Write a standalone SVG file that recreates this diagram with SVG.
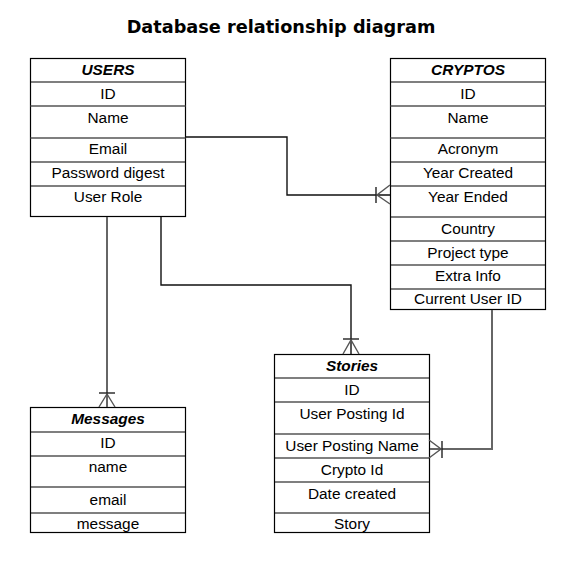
<svg xmlns="http://www.w3.org/2000/svg" width="579" height="573" viewBox="0 0 579 573">
<style>
.box{fill:#fff;stroke:#000;stroke-width:1.2}
.sep{stroke:#000;stroke-width:1.2}
.gsep{stroke:#555;stroke-width:1.6}
.t{font-family:"Liberation Sans",Arial,sans-serif;font-size:15.4px;text-anchor:middle;fill:#000}
.h{font-family:"Liberation Sans",Arial,sans-serif;font-size:15.4px;font-weight:bold;font-style:italic;text-anchor:middle;fill:#000}
.title{font-family:"DejaVu Sans",Verdana,sans-serif;font-size:17.7px;font-weight:bold;text-anchor:middle;fill:#000}
.ln{fill:none;stroke:#111;stroke-width:1.4}
.gln{fill:none;stroke:#666;stroke-width:2}
.crow{fill:none;stroke:#555;stroke-width:1.4}
.bar{fill:none;stroke:#222;stroke-width:1.4}
</style>
<rect width="579" height="573" fill="#fff"/>
<text class="title" x="281" y="33">Database relationship diagram</text>

<g id="users">
<rect class="box" x="30.5" y="58.5" width="155" height="158"/>
<line class="sep" x1="30.5" y1="82" x2="185.5" y2="82"/>
<line class="gsep" x1="30.5" y1="106" x2="185.5" y2="106"/>
<line class="gsep" x1="30.5" y1="138" x2="185.5" y2="138"/>
<line class="sep" x1="30.5" y1="162" x2="185.5" y2="162"/>
<line class="sep" x1="30.5" y1="186" x2="185.5" y2="186"/>
<text class="h" x="108" y="75">USERS</text>
<text class="t" x="108" y="99">ID</text>
<text class="t" x="108" y="123">Name</text>
<text class="t" x="108" y="154">Email</text>
<text class="t" x="108" y="178">Password digest</text>
<text class="t" x="108" y="202">User Role</text>
</g>

<g id="cryptos">
<rect class="box" x="390.5" y="58.5" width="155" height="251"/>
<line class="sep" x1="390.5" y1="82" x2="545.5" y2="82"/>
<line class="gsep" x1="390.5" y1="106" x2="545.5" y2="106"/>
<line class="gsep" x1="390.5" y1="138" x2="545.5" y2="138"/>
<line class="sep" x1="390.5" y1="162" x2="545.5" y2="162"/>
<line class="sep" x1="390.5" y1="186" x2="545.5" y2="186"/>
<line class="sep" x1="390.5" y1="217" x2="545.5" y2="217"/>
<line class="sep" x1="390.5" y1="241" x2="545.5" y2="241"/>
<line class="sep" x1="390.5" y1="265" x2="545.5" y2="265"/>
<line class="sep" x1="390.5" y1="289" x2="545.5" y2="289"/>
<text class="h" x="468" y="75">CRYPTOS</text>
<text class="t" x="468" y="99">ID</text>
<text class="t" x="468" y="123">Name</text>
<text class="t" x="468" y="154">Acronym</text>
<text class="t" x="468" y="178">Year Created</text>
<text class="t" x="468" y="202">Year Ended</text>
<text class="t" x="468" y="234">Country</text>
<text class="t" x="468" y="258">Project type</text>
<text class="t" x="468" y="281">Extra Info</text>
<text class="t" x="468" y="304">Current User ID</text>
</g>

<g id="messages">
<rect class="box" x="30.5" y="407.5" width="155" height="125"/>
<line class="sep" x1="30.5" y1="432" x2="185.5" y2="432"/>
<line class="sep" x1="30.5" y1="456" x2="185.5" y2="456"/>
<line class="sep" x1="30.5" y1="487" x2="185.5" y2="487"/>
<line class="sep" x1="30.5" y1="513" x2="185.5" y2="513"/>
<text class="h" x="108" y="424">Messages</text>
<text class="t" x="108" y="448">ID</text>
<text class="t" x="108" y="472">name</text>
<text class="t" x="108" y="505">email</text>
<text class="t" x="108" y="529">message</text>
</g>

<g id="stories">
<rect class="box" x="274.5" y="354.5" width="155" height="178"/>
<line class="sep" x1="274.5" y1="378" x2="429.5" y2="378"/>
<line class="sep" x1="274.5" y1="402" x2="429.5" y2="402"/>
<line class="sep" x1="274.5" y1="434" x2="429.5" y2="434"/>
<line class="sep" x1="274.5" y1="458" x2="429.5" y2="458"/>
<line class="sep" x1="274.5" y1="482" x2="429.5" y2="482"/>
<line class="sep" x1="274.5" y1="513" x2="429.5" y2="513"/>
<text class="h" x="352" y="371">Stories</text>
<text class="t" x="352" y="395">ID</text>
<text class="t" x="352" y="419">User Posting Id</text>
<text class="t" x="352" y="451">User Posting Name</text>
<text class="t" x="352" y="475">Crypto Id</text>
<text class="t" x="352" y="499">Date created</text>
<text class="t" x="352" y="529">Story</text>
</g>

<g id="connectors">
<path class="ln" d="M185.5 137 H287 V195 H390"/>
<line class="bar" x1="376" y1="187" x2="376" y2="203"/>
<path class="crow" d="M390 185 L377 195 L390 204"/>

<path class="gln" d="M107 217 V407"/>
<line class="bar" x1="99" y1="393" x2="115" y2="393"/>
<path class="crow" d="M99 407 L107 394 L115 407"/>

<path class="ln" d="M161 217 V285 H351 V354"/>
<line class="bar" x1="343" y1="339" x2="359" y2="339"/>
<path class="crow" d="M343 354 L351 340 L359 354"/>

<path class="gln" d="M492 310 V449 H430"/>
<line class="bar" x1="442" y1="441" x2="442" y2="458"/>
<path class="crow" d="M429 440 L441 449 L429 458"/>
</g>
</svg>
